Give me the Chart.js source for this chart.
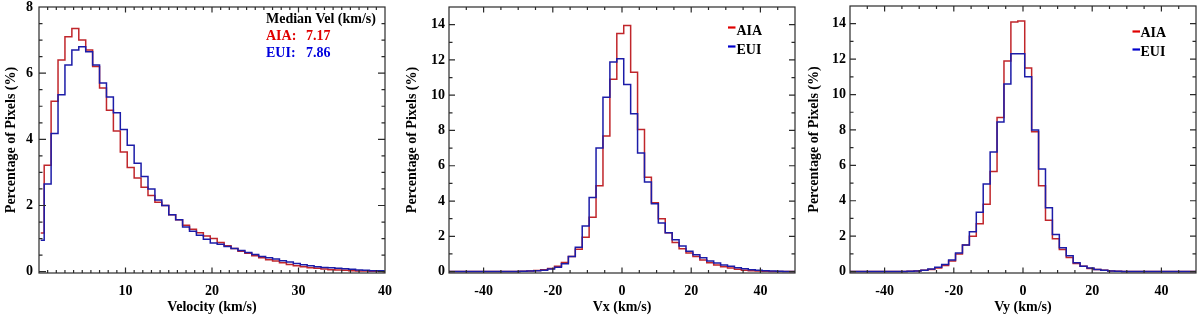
<!DOCTYPE html>
<html><head><meta charset="utf-8">
<script src="https://cdn.jsdelivr.net/npm/chart.js@4.4.1/dist/chart.umd.min.js"></script>
<style>
html,body{margin:0;padding:0;background:#fff;}
#wrap{position:relative;width:1200px;height:320px;overflow:hidden;}
.p{position:absolute;top:0;width:400px;height:320px;}
</style></head><body>
<div id="wrap">
<div class="p" style="left:0"><canvas id="c1" width="400" height="320"></canvas></div>
<div class="p" style="left:400px"><canvas id="c2" width="400" height="320"></canvas></div>
<div class="p" style="left:800px"><canvas id="c3" width="400" height="320"></canvas></div>
</div>
<script>
// ---------- data ----------
const velCenters = [0.2,1.0,1.8,2.6,3.4,4.2,5.0,5.8,6.6,7.4,8.2,9.0,9.8,10.6,11.4,12.2,13.0,13.8,14.6,15.4,16.2,17.0,17.8,18.6,19.4,20.2,21.0,21.8,22.6,23.4,24.2,25.0,25.8,26.6,27.4,28.2,29.0,29.8,30.6,31.4,32.2,33.0,33.8,34.6,35.4,36.2,37.0,37.8,38.6,39.4,40.2];
const velAIA = [1.17,3.22,5.15,6.40,7.10,7.35,7.00,6.70,6.20,5.55,4.88,4.25,3.62,3.15,2.83,2.55,2.30,2.10,2.00,1.72,1.57,1.40,1.28,1.18,1.08,1.00,0.88,0.78,0.70,0.62,0.56,0.48,0.42,0.36,0.32,0.27,0.22,0.18,0.15,0.12,0.10,0.08,0.06,0.05,0.04,0.03,0.02,0.02,0.01,0.01,0.00];
const velEUI = [0.95,2.65,4.18,5.35,6.25,6.70,6.80,6.65,6.25,5.70,5.28,4.80,4.30,3.82,3.28,2.88,2.50,2.17,2.00,1.72,1.57,1.35,1.22,1.10,0.98,0.87,0.83,0.76,0.70,0.64,0.58,0.52,0.46,0.42,0.38,0.33,0.29,0.25,0.21,0.18,0.15,0.13,0.12,0.10,0.09,0.07,0.05,0.04,0.03,0.03,0.02];

const compCenters = [-50.5,-48.5,-46.5,-44.5,-42.5,-40.5,-38.5,-36.5,-34.5,-32.5,-30.5,-28.5,-26.5,-24.5,-22.5,-20.5,-18.5,-16.5,-14.5,-12.5,-10.5,-8.5,-6.5,-4.5,-2.5,-0.5,1.5,3.5,5.5,7.5,9.5,11.5,13.5,15.5,17.5,19.5,21.5,23.5,25.5,27.5,29.5,31.5,33.5,35.5,37.5,39.5,41.5,43.5,45.5,47.5,49.5,51.5];
const vxAIA = [0,0,0,0,0,0,0,0,0,0,0.01,0.02,0.04,0.06,0.10,0.18,0.30,0.52,0.85,1.27,1.95,3.08,4.86,7.68,10.9,13.5,13.95,11.3,8.05,5.35,3.90,3.00,2.20,1.65,1.30,1.05,0.85,0.65,0.50,0.38,0.28,0.20,0.13,0.08,0.05,0.03,0.02,0.01,0.01,0,0,0];
const vxEUI = [0,0,0,0,0,0,0,0,0,0,0.01,0.02,0.03,0.05,0.08,0.15,0.25,0.45,0.85,1.38,2.58,4.20,7.00,9.88,11.88,12.07,10.6,8.95,6.72,5.08,3.85,2.75,2.20,1.80,1.45,1.15,0.95,0.78,0.60,0.48,0.38,0.30,0.22,0.16,0.11,0.08,0.05,0.03,0.02,0.01,0.01,0];
const vyAIA = [0,0,0,0,0,0,0,0,0.01,0.02,0.04,0.07,0.12,0.20,0.35,0.60,1.00,1.50,2.00,2.70,3.80,5.65,8.70,11.9,14.1,14.15,11.5,7.90,4.85,2.90,1.85,1.25,0.80,0.45,0.30,0.18,0.12,0.07,0.04,0.02,0.01,0,0,0,0,0,0,0,0,0,0,0];
const vyEUI = [0,0,0,0,0,0,0,0,0.01,0.02,0.04,0.08,0.14,0.25,0.40,0.65,1.05,1.50,2.25,3.35,4.95,6.75,8.45,10.6,12.3,12.3,11.0,8.00,5.80,3.60,2.10,1.35,0.90,0.50,0.30,0.20,0.12,0.07,0.04,0.02,0.01,0,0,0,0,0,0,0,0,0,0,0];

const velXTicks = [10,20,30,40];
const velYTicks = [0,2,4,6,8];
const compXTicks = [-40,-20,0,20,40];
const compYTicks = [0,2,4,6,8,10,12,14];

const RED = '#c0262b';
const BLUE = '#1c1ca8';
const FONT = 'Liberation Serif, Times New Roman, serif';

// ---------- helpers ----------
function steps(a, b, s) { const r = []; for (let v = a; v <= b + 1e-9; v += s) r.push(Math.round(v * 1000) / 1000); return r; }

const frameTicks = {
  id: 'frameTicks',
  afterDatasetsDraw(chart, args, o) {
    const {ctx, chartArea: a, scales: {x, y}} = chart;
    ctx.save();
    ctx.strokeStyle = '#2a2a2a';
    ctx.lineWidth = 1.2;
    ctx.strokeRect(a.left, a.top, a.right - a.left, a.bottom - a.top);
    ctx.beginPath();
    const dx = (vals, len) => vals.forEach(v => {
      const p = x.getPixelForValue(v);
      if (p <= a.left + 0.5 || p >= a.right - 0.5) return;
      ctx.moveTo(p, a.bottom); ctx.lineTo(p, a.bottom - len);
      ctx.moveTo(p, a.top); ctx.lineTo(p, a.top + len);
    });
    const dy = (vals, len) => vals.forEach(v => {
      const p = y.getPixelForValue(v);
      if (p <= a.top + 0.5 || p >= a.bottom - 0.5) return;
      ctx.moveTo(a.left, p); ctx.lineTo(a.left + len, p);
      ctx.moveTo(a.right, p); ctx.lineTo(a.right - len, p);
    });
    dx(o.xMinor, o.xMinLen); dx(o.xMajor, o.xMajLen);
    dy(o.yMinor, o.yMinLen); dy(o.yMajor, o.yMajLen);
    ctx.stroke();
    ctx.restore();
  }
};

const notes = {
  id: 'notes',
  afterDraw(chart, args, o) {
    const ctx = chart.ctx;
    ctx.save();
    (o.dashes || []).forEach(d => {
      ctx.strokeStyle = d.color; ctx.lineWidth = 2.2;
      ctx.beginPath(); ctx.moveTo(d.x1, d.y); ctx.lineTo(d.x2, d.y); ctx.stroke();
    });
    (o.texts || []).forEach(t => {
      ctx.font = 'bold 14px ' + FONT;
      ctx.fillStyle = t.color;
      ctx.textAlign = 'left';
      ctx.textBaseline = 'middle';
      ctx.fillText(t.text, t.x, t.y);
    });
    ctx.restore();
  }
};

function ds(label, centers, vals, color, order) {
  return {
    label, order,
    data: centers.map((c, i) => ({x: c, y: vals[i]})),
    borderColor: color, borderWidth: 1.5,
    pointRadius: 0, stepped: 'middle', fill: false
  };
}

function makeChart(id, c) {
  const tickFont = {family: FONT, weight: 'bold', size: 14};
  return new Chart(document.getElementById(id), {
    type: 'line',
    data: {datasets: [ds('AIA', c.centers, c.aia, RED, 1), ds('EUI', c.centers, c.eui, BLUE, 0)]},
    options: {
      responsive: false, animation: false,
      layout: {padding: {left: 0, right: c.padR, top: c.padT, bottom: 0}},
      plugins: {
        legend: {display: false}, tooltip: {enabled: false},
        frameTicks: c.ticks, notes: c.notes
      },
      scales: {
        x: {
          type: 'linear', min: c.xMin, max: c.xMax,
          grid: {display: false, drawTicks: false}, border: {display: false},
          afterBuildTicks: s => { s.ticks = c.xLabels.map(v => ({value: v})); },
          afterFit: s => { s.height = c.xH; s.paddingLeft = 0; s.paddingRight = 0; },
          ticks: {font: tickFont, color: '#000', padding: c.xPad, maxRotation: 0, autoSkip: false, callback: v => String(v)},
          title: {display: true, text: c.xTitle, color: '#000', font: tickFont, padding: {top: 0, bottom: 4}}
        },
        y: {
          type: 'linear', min: c.yMin, max: c.yMax,
          grid: {display: false, drawTicks: false}, border: {display: false},
          afterBuildTicks: s => { s.ticks = c.yLabels.map(v => ({value: v})); },
          afterFit: s => { s.width = c.yW; s.paddingTop = 0; s.paddingBottom = 0; },
          ticks: {font: tickFont, color: '#000', padding: c.yPad, autoSkip: false, callback: v => String(v)},
          title: {display: true, text: 'Percentage of Pixels (%)', color: '#000', font: tickFont, padding: {top: c.yTitlePad, bottom: 0}}
        }
      }
    },
    plugins: [frameTicks, notes]
  });
}

makeChart('c1', {
  centers: velCenters, aia: velAIA, eui: velEUI,
  xMin: 0, xMax: 40, yMin: -0.04, yMax: 8,
  xLabels: velXTicks, yLabels: velYTicks,
  padR: 15, padT: 7, xH: 47, yW: 39, xPad: 10, yPad: 6, yTitlePad: 3.3,
  xTitle: 'Velocity (km/s)',
  ticks: {xMajor: velXTicks, xMinor: steps(0, 40, 1), yMajor: velYTicks, yMinor: steps(0, 8, 0.5), xMajLen: 5.5, xMinLen: 3, yMajLen: 7, yMinLen: 3.5},
  notes: {texts: [
    {text: 'Median Vel (km/s)', x: 266, y: 19, color: '#000'},
    {text: 'AIA:', x: 266, y: 36, color: '#e00000'},
    {text: '7.17', x: 306, y: 36, color: '#e00000'},
    {text: 'EUI:', x: 266, y: 53.5, color: '#0000dd'},
    {text: '7.86', x: 306, y: 53.5, color: '#0000dd'}
  ]}
});

makeChart('c2', {
  centers: compCenters, aia: vxAIA, eui: vxEUI,
  xMin: -50, xMax: 50, yMin: -0.08, yMax: 15,
  xLabels: compXTicks, yLabels: compYTicks,
  padR: 5, padT: 7, xH: 47, yW: 49, xPad: 10, yPad: 4, yTitlePad: 4.3,
  xTitle: 'Vx (km/s)',
  ticks: {xMajor: compXTicks, xMinor: steps(-50, 50, 5), yMajor: compYTicks, yMinor: steps(0, 15, 1), xMajLen: 5.5, xMinLen: 3, yMajLen: 6, yMinLen: 3.5},
  notes: {
    dashes: [{x1: 328, x2: 335.5, y: 27.5, color: '#e00000'}, {x1: 328, x2: 335.5, y: 46.5, color: '#0000cc'}],
    texts: [{text: 'AIA', x: 336.5, y: 31.5, color: '#000'}, {text: 'EUI', x: 336.5, y: 50, color: '#000'}]
  }
});

makeChart('c3', {
  centers: compCenters, aia: vyAIA, eui: vyEUI,
  xMin: -50, xMax: 50, yMin: -0.08, yMax: 15,
  xLabels: compXTicks, yLabels: compYTicks,
  padR: 4, padT: 6, xH: 47, yW: 50, xPad: 10, yPad: 4, yTitlePad: 5.6,
  xTitle: 'Vy (km/s)',
  ticks: {xMajor: compXTicks, xMinor: steps(-50, 50, 5), yMajor: compYTicks, yMinor: steps(0, 15, 1), xMajLen: 5.5, xMinLen: 3, yMajLen: 6, yMinLen: 3.5},
  notes: {
    dashes: [{x1: 332.5, x2: 340, y: 31.5, color: '#e00000'}, {x1: 332.5, x2: 340, y: 49.5, color: '#0000cc'}],
    texts: [{text: 'AIA', x: 340.5, y: 33.5, color: '#000'}, {text: 'EUI', x: 340.5, y: 52.5, color: '#000'}]
  }
});
</script>
</body></html>
